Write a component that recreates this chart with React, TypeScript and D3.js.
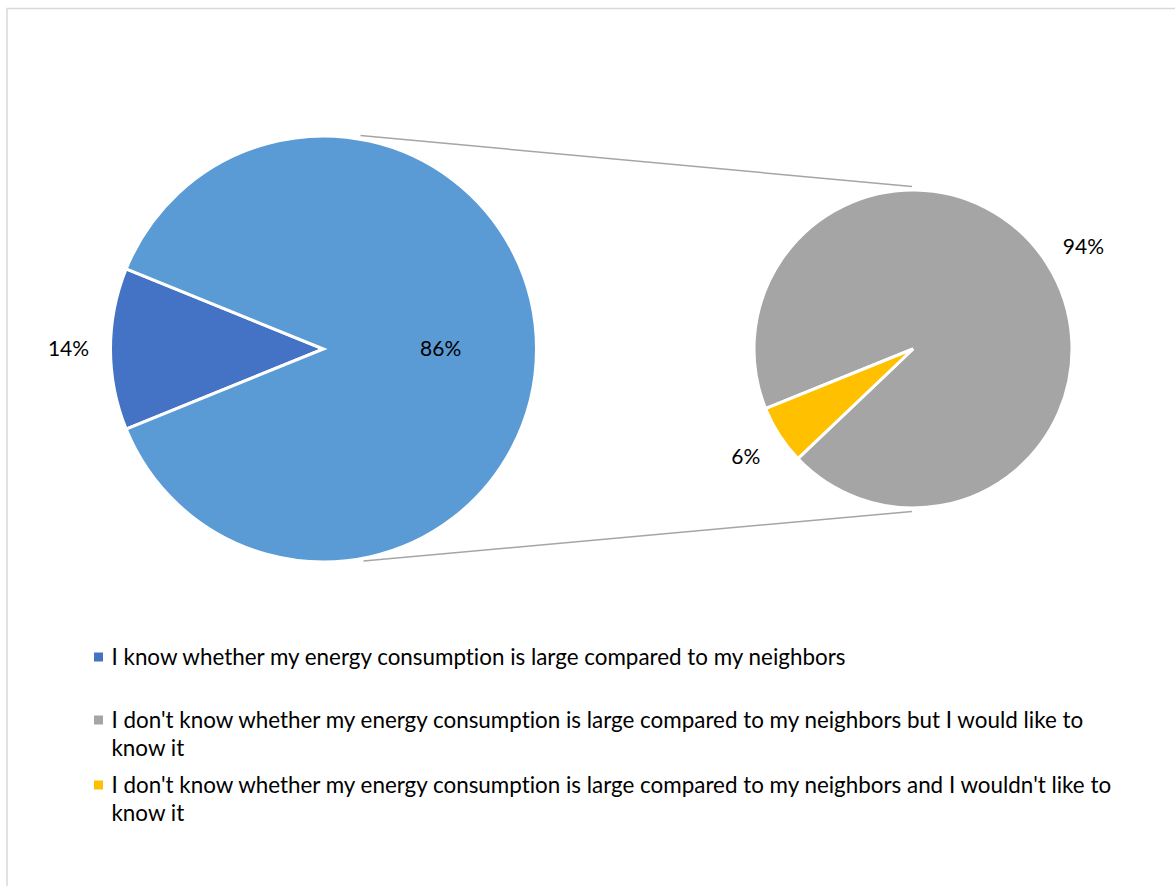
import React from "react";
import * as d3 from "d3";

const mainCategories = ["I know whether my energy consumption is large compared to my neighbors", "Other"];
const subCategories = [
  "I don't know whether my energy consumption is large compared to my neighbors but I would like to know it",
  "I don't know whether my energy consumption is large compared to my neighbors and I wouldn't like to know it",
];
const knowValue = 0.14;
const subValues = [0.94, 0.06];
const mainColors = ["#4472C4", "#5B9BD5"];
const subColors = ["#A5A5A5", "#FFC000"];
const legendLines = [
  ["I know whether my energy consumption is large compared to my neighbors"],
  ["I don't know whether my energy consumption is large compared to my neighbors but I would like to", "know it"],
  ["I don't know whether my energy consumption is large compared to my neighbors and I wouldn't like to", "know it"],
];
const legendColors = ["#4472C4", "#A5A5A5", "#FFC000"];

const W = 1175, H = 886;
const FONT = "Lato, 'Open Sans', sans-serif";

export default function App() {
  const cx1 = 323.5, cy1 = 349, r1 = 213;
  const cx2 = 913, cy2 = 349, r2 = 159;

  const otherValue = d3.sum(subValues);
  const mainValues = [knowValue, otherValue];
  const mainLabels = [knowValue, 1 - knowValue].map(d3.format(".0%"));
  const total = d3.sum(mainValues);
  const span = (knowValue / total) * 2 * Math.PI;
  const start1 = (3 * Math.PI) / 2 - span / 2;
  const pie1 = d3.pie<number>().sort(null).startAngle(start1).endAngle(start1 + 2 * Math.PI)(mainValues);

  const start2 = (248 / 180) * Math.PI;
  const pie2 = d3.pie<number>().sort(null).startAngle(start2).endAngle(start2 + 2 * Math.PI)(subValues);

  const arc1 = d3.arc<any>().innerRadius(0).outerRadius(r1);
  const arc2 = d3.arc<any>().innerRadius(0).outerRadius(r2);

  const polar = (cx: number, cy: number, a: number, r: number) => [cx + r * Math.sin(a), cy - r * Math.cos(a)];

  const mainLabelPos = pie1.map((p, i) => {
    const m = (p.startAngle + p.endAngle) / 2;
    return polar(cx1, cy1, m, i === 0 ? r1 + 42 : r1 * 0.55);
  });
  const subLabelPos = pie2.map((p, i) => {
    const m = (p.startAngle + p.endAngle) / 2 + (i === 0 ? 0.03 : 0);
    return polar(cx2, cy2, m, r2 + 40);
  });

  const legendY = [657, 720, 785];

  return (
    <svg width={W} height={H} style={{ position: "absolute", left: 0, top: 0, background: "#fff", fontVariantLigatures: "none" }} fontFamily={FONT}>
      <rect x={7} y={8.5} width={1300} height={1000} fill="#fff" stroke="#D9D9D9" strokeWidth={1.5} />
      <line x1={cx1 + 37} y1={cy1 - r1 - 0.5} x2={cx2 - 1} y2={cy2 - r2 - 3.5} stroke="#A5A5A5" strokeWidth={1.5} />
      <line x1={cx1 + 40} y1={cy1 + r1 - 1} x2={cx2 - 1} y2={cy2 + r2 + 3.5} stroke="#A5A5A5" strokeWidth={1.5} />
      <g transform={`translate(${cx1},${cy1})`}>
        {pie1.map((p, i) => (
          <path key={i} d={arc1(p) as string} fill={mainColors[i]} stroke="#fff" strokeWidth={3} />
        ))}
      </g>
      <g transform={`translate(${cx2},${cy2})`}>
        {pie2.map((p, i) => (
          <path key={i} d={arc2(p) as string} fill={subColors[i]} stroke="#fff" strokeWidth={3} />
        ))}
      </g>
      {mainLabelPos.map(([x, y], i) => (
        <text key={i} x={x} y={y} dy="0.35em" textAnchor="middle" fontSize={21} fill="#000">
          {mainLabels[i]}
        </text>
      ))}
      {subLabelPos.map(([x, y], i) => (
        <text key={i} x={x} y={y} dy="0.35em" textAnchor="middle" fontSize={21} fill="#000">
          {d3.format(".0%")(subValues[i])}
        </text>
      ))}
      {legendLines.map((lines, i) => (
        <g key={i}>
          <rect x={94} y={legendY[i] - 4.5} width={9} height={9} fill={legendColors[i]} />
          {lines.map((t, j) => (
            <text key={j} x={111.5} y={legendY[i] + j * 28} dy="0.35em" fontSize={22.4} fill="#000">
              {t}
            </text>
          ))}
        </g>
      ))}
    </svg>
  );
}
